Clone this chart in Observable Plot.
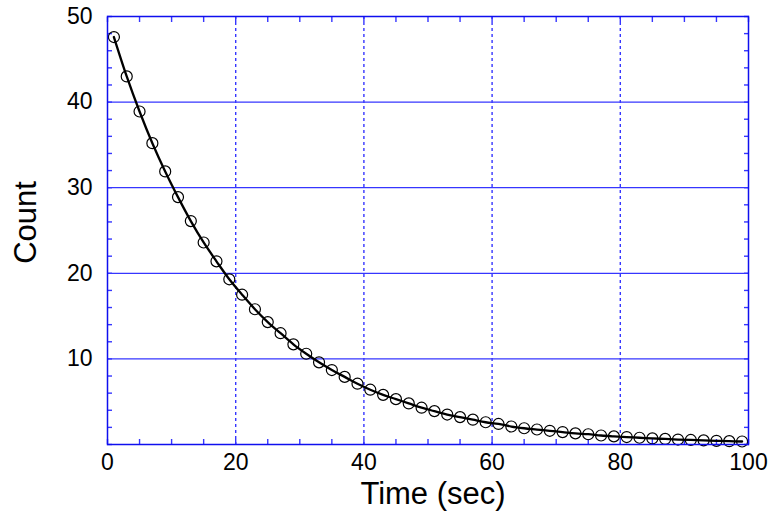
<!DOCTYPE html>
<html>
<head>
<meta charset="utf-8">
<script src="https://cdn.jsdelivr.net/npm/d3@7"></script>
<script src="https://cdn.jsdelivr.net/npm/@observablehq/plot@0.6"></script>
<style>
  html, body { margin: 0; padding: 0; background: #fff; }
  #chart svg { font-family: "Liberation Sans", Arial, sans-serif; }
</style>
</head>
<body>
<div id="chart"></div>
<script>
// Data
const time = [1,3,5,7,9,11,13,15,17,19,21,23,25,27,29,31,33,35,37,39,41,43,45,47,49,
              51,53,55,57,59,61,63,65,67,69,71,73,75,77,79,81,83,85,87,89,91,93,95,97,99];
const count = [47.6,43.0,38.9,35.2,31.9,28.9,26.1,23.6,21.4,19.3,17.5,15.8,14.3,13.0,11.7,10.6,9.6,8.7,7.9,7.1,
               6.4,5.8,5.3,4.8,4.3,3.9,3.5,3.2,2.9,2.6,2.4,2.1,1.9,1.75,1.6,1.45,1.3,1.2,1.05,0.95,
               0.87,0.79,0.71,0.65,0.58,0.53,0.48,0.43,0.39,0.35];
const xTickLabels = [0, 20, 40, 60, 80, 100];
const yTickLabels = [10, 20, 30, 40, 50];
const xGrid = [20, 40, 60, 80];
const yGrid = [10, 20, 30, 40];
const xMinorTicks = d3.range(0, 101, 5);
const yMinorTicks = d3.range(0, 51, 2);
const xTitle = "Time (sec)";
const yTitle = "Count";

const data = time.map((t, i) => ({t, c: count[i]}));
const blue = "#0f0fee";
const gridBlue = "#3636ff";

const chart = Plot.plot({
  width: 768,
  height: 514,
  marginLeft: 107,
  marginRight: 20,
  marginTop: 16,
  marginBottom: 70,
  x: {domain: [0, 100]},
  y: {domain: [0, 50]},
  marks: [
    Plot.ruleY(yGrid, {stroke: gridBlue, strokeWidth: 1.2}),
    Plot.ruleX(xGrid, {stroke: gridBlue, strokeWidth: 1.4, strokeDasharray: "3,3"}),
    // inward minor ticks on all four sides
    Plot.axisX({anchor: "bottom", ticks: xMinorTicks, tickSize: -5, tickFormat: () => "", label: null, stroke: gridBlue, strokeWidth: 1.4}),
    Plot.axisX({anchor: "top", ticks: xMinorTicks, tickSize: -5, tickFormat: () => "", label: null, stroke: gridBlue, strokeWidth: 1.4}),
    Plot.axisY({anchor: "left", ticks: yMinorTicks, tickSize: -5, tickFormat: () => "", label: null, stroke: gridBlue, strokeWidth: 1.4}),
    Plot.axisY({anchor: "right", ticks: yMinorTicks, tickSize: -5, tickFormat: () => "", label: null, stroke: gridBlue, strokeWidth: 1.4}),
    // tick labels
    Plot.axisX({anchor: "bottom", ticks: xTickLabels, tickSize: 0, tickPadding: 9, fontSize: 23, label: null, fill: "#000"}),
    Plot.axisY({anchor: "left", ticks: yTickLabels, tickSize: 0, tickPadding: 15, fontSize: 23, label: null, fill: "#000"}),
    // axis titles
    Plot.text([xTitle], {frameAnchor: "bottom", textAnchor: "middle", dx: 5, dy: 49.5, fontSize: 31, lineAnchor: "middle", fill: "#000"}),
    Plot.text([yTitle], {frameAnchor: "left", textAnchor: "middle", dx: -81, dy: -8, rotate: -90, fontSize: 31, lineAnchor: "middle", fill: "#000"}),
    // data
    Plot.line(data, {x: "t", y: "c", stroke: "#000", strokeWidth: 2.3, curve: "catmull-rom"}),
    Plot.dot(data, {x: "t", y: "c", r: 5.5, stroke: "#000", strokeWidth: 1.2, fill: "none"}),
    Plot.frame({stroke: blue, strokeWidth: 1.5})
  ]
});
document.getElementById("chart").append(chart);
</script>
</body>
</html>
